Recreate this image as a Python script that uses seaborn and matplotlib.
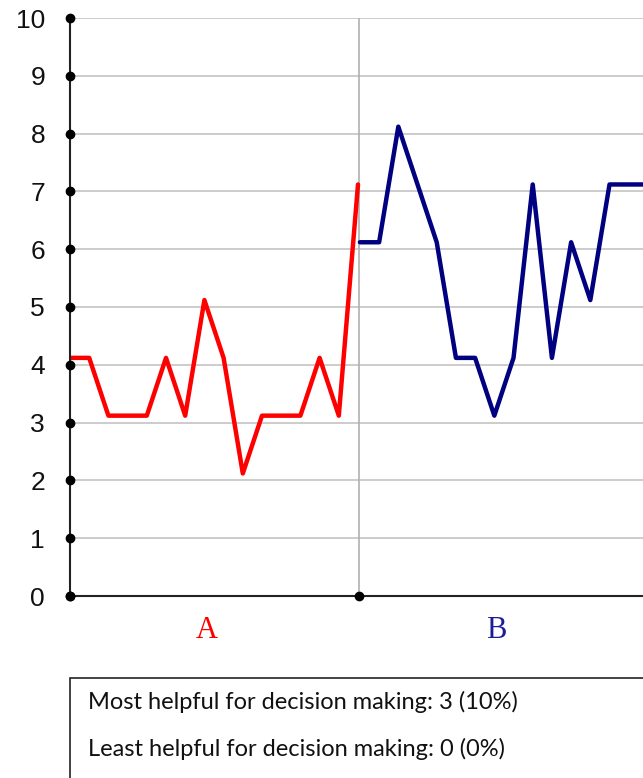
import seaborn as sns
import matplotlib.pyplot as plt
import pandas as pd
from matplotlib.patches import Rectangle

# values (lines sit a touch above the grid)
a_vals = [4, 4, 3, 3, 3, 4, 3, 5, 4, 2, 3, 3, 3, 4, 3, 7]
b_vals = [6, 6, 8, 7, 6, 4, 4, 3, 4, 7, 4, 6, 5, 7, 7, 7]
groups = ["A", "B"]
colors = {"A": "red", "B": "#000080"}
label_colors = {"A": "red", "B": "#1c1c96"}
y_ticks = list(range(0, 11))
note_lines = ["Most helpful for decision making: 3 (10%)",
              "Least helpful for decision making: 0 (0%)"]

lift = 0.12
b_start = 15.1

df = pd.DataFrame({
    "x": list(range(len(a_vals))) + [b_start + i for i in range(len(b_vals))],
    "v": [v + lift for v in a_vals] + [v + lift for v in b_vals],
    "group": ["A"] * len(a_vals) + ["B"] * len(b_vals),
})

sns.set_style("white")
plt.rcParams["font.family"] = ["Liberation Sans", "DejaVu Sans"]

W, H = 643, 778
fig = plt.figure(figsize=(W / 100, H / 100), dpi=100)
ax = fig.add_axes([70 / W, (H - 596) / H, (W - 70) / W, (596 - 18) / H])

step = 19.2
ax.set_xlim(0, (W - 70) / step)
ax.set_ylim(0, 10)

for t in y_ticks[1:]:
    ax.axhline(t, color="#c4c4c4", lw=1.2, zorder=0)
ax.axvline(b_start - 0.05, color="#b0b0b0", lw=1.2, zorder=0)

sns.lineplot(data=df, x="x", y="v", hue="group", palette=colors,
             linewidth=3.2, legend=False, ax=ax, zorder=3)

# axis lines with dots
ax.plot([0, 0], [0, 10], color="#222222", lw=1.5, clip_on=False, zorder=4)
ax.plot([0, 31], [0, 0], color="#222222", lw=1.5, clip_on=False, zorder=4)
ax.plot([0] * len(y_ticks), y_ticks, "o", color="black", ms=6, clip_on=False, zorder=5)
ax.plot([0, b_start - 0.05], [0, 0], "o", color="black", ms=6, clip_on=False, zorder=5)

for s in ax.spines.values():
    s.set_visible(False)
ax.set_yticks(y_ticks)
ax.set_yticklabels([str(t) for t in y_ticks], fontsize=19, color="#111111")
ax.tick_params(axis="y", length=0, pad=18)
ax.set_xticks([])
ax.set_xlabel("")
ax.set_ylabel("")

for g, xc in zip(groups, [7.1, 22.2]):
    ax.text(xc, -0.6, g, color=label_colors[g], fontsize=22,
            family="Liberation Serif", ha="center", va="center")

fig.patches.append(Rectangle((70 / W, -0.05), 1.0, (H - 678) / H + 0.05,
                             transform=fig.transFigure, fill=False,
                             edgecolor="#222222", lw=1.2))
for txt, yp in zip(note_lines, [702, 749]):
    fig.text(88 / W, 1 - yp / H, txt, fontsize=17, family=["Lato", "DejaVu Sans"],
             color="#111111", va="center", ha="left")

fig.savefig("out.png", dpi=100)
